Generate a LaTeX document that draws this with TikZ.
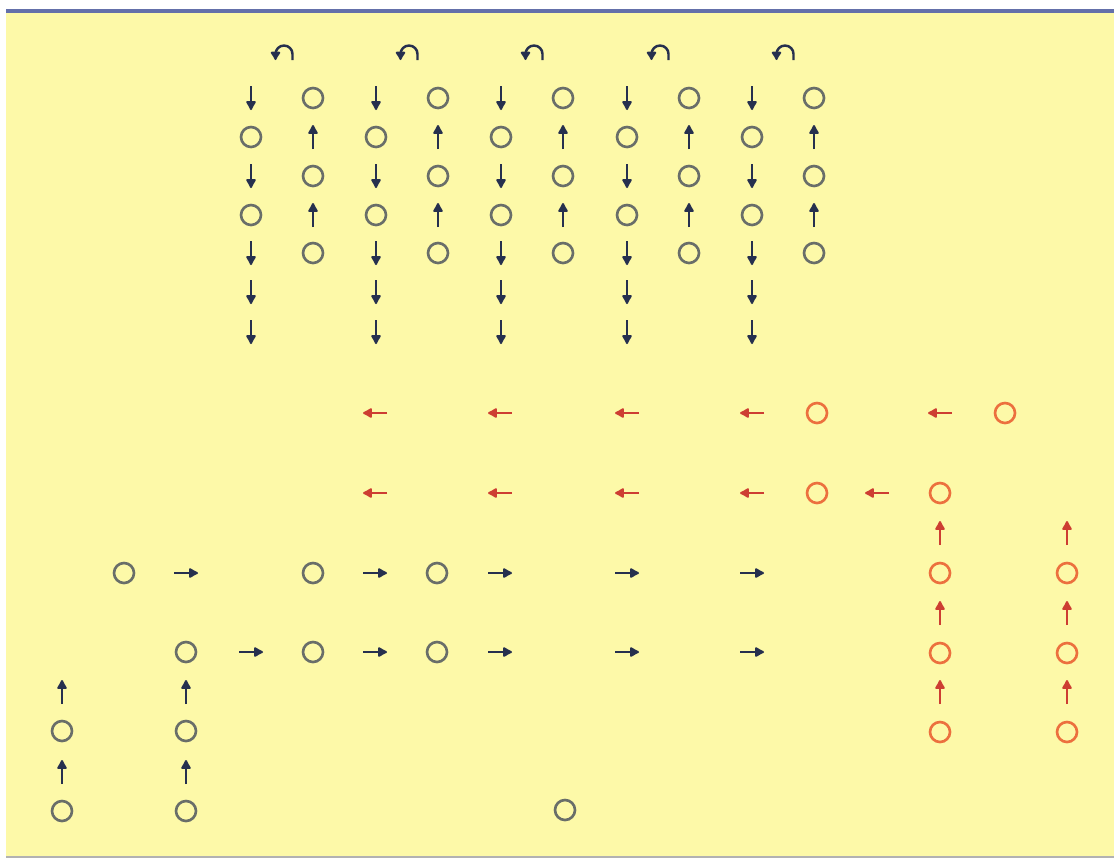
\documentclass[tikz,border=0pt]{standalone}
\usepackage{tikz}
\usetikzlibrary{arrows.meta}

\definecolor{paper}{RGB}{253,249,168}
\definecolor{edgeblue}{RGB}{100,112,170}
\definecolor{ringgray}{RGB}{105,110,105}
\definecolor{arrowblue}{RGB}{38,48,78}
\definecolor{ringred}{RGB}{236,112,62}
\definecolor{arrowred}{RGB}{205,62,50}

\tikzset{
    ring/.style={circle, draw=ringgray, line width=1.5pt, minimum size=0.40cm, inner sep=0pt},
    redring/.style={ring, draw=ringred},
    tip/.style={line width=1.2pt, -{Latex[round,length=2.2mm,width=2.4mm]}},
    dn/.style={tip, draw=arrowblue},
    rd/.style={tip, draw=arrowred},
    curl/.style={line width=1.4pt, draw=arrowblue, -{Latex[round,length=2mm,width=2.4mm]}}
}

\begin{document}
\begin{tikzpicture}[x=0.02cm, y=-0.02cm]
        \useasboundingbox (0,0) rectangle (1118,860);
        \fill[white] (0,0) rectangle (1118,860);
        \fill[paper] (6,12) rectangle (1114,857);
        \draw[edgeblue, line width=2.4pt] (6,11) -- (1114,11);
        \draw[gray!60, line width=0.8pt] (6,857) -- (1114,857);
        % top block: five pairs of columns
        \foreach \i/\xd in {1/251, 2/376, 3/501, 4/627, 5/752} {
            \coordinate (u\i) at (\xd+33,54);
            \draw[curl] ([xshift=0.17cm, yshift=-0.12cm] u\i) -- ([xshift=0.17cm] u\i)
                arc[start angle=0, end angle=180, radius=0.17cm] -- ++(0,-0.12cm);
            \coordinate (d\i-1) at (\xd,98);
            \node[ring] (d\i-2) at (\xd,137) {};
            \coordinate (d\i-3) at (\xd,176);
            \node[ring] (d\i-4) at (\xd,215) {};
            \coordinate (d\i-5) at (\xd,253);
            \coordinate (d\i-6) at (\xd,292);
            \coordinate (d\i-7) at (\xd,332);
            \node[ring] (p\i-1) at (\xd+62,98) {};
            \coordinate (p\i-2) at (\xd+62,137);
            \node[ring] (p\i-3) at (\xd+62,176) {};
            \coordinate (p\i-4) at (\xd+62,215);
            \node[ring] (p\i-5) at (\xd+62,253) {};
            \foreach \r in {1,3,5,6,7}
                \draw[dn] ([yshift=0.24cm] d\i-\r) -- ([yshift=-0.24cm] d\i-\r);
            \foreach \r in {2,4}
                \draw[dn] ([yshift=-0.24cm] p\i-\r) -- ([yshift=0.24cm] p\i-\r);
        }
        % red rows
        \foreach \x [count=\n] in {375,500,627,752,940} {
            \coordinate (la\n) at (\x,413);
            \draw[rd] ([xshift=0.24cm] la\n) -- ([xshift=-0.24cm] la\n);
        }
        \node[redring] (ra1) at (817,413) {};
        \node[redring] (ra2) at (1005,413) {};
        \foreach \x [count=\n] in {375,500,627,752,877} {
            \coordinate (lb\n) at (\x,493);
            \draw[rd] ([xshift=0.24cm] lb\n) -- ([xshift=-0.24cm] lb\n);
        }
        \node[redring] (rb1) at (817,493) {};
        \node[redring] (rb2) at (940,493) {};
        % red columns
        \foreach \x/\c in {940/s, 1067/t} {
            \foreach \y [count=\n] in {533,613,692} {
                \coordinate (\c u\n) at (\x,\y);
                \draw[rd] ([yshift=-0.24cm] \c u\n) -- ([yshift=0.24cm] \c u\n);
                \node[redring] (\c o\n) at (\x,\y+40) {};
            }
        }
        % black rows
        \node[ring] (rc1) at (124,573) {};
        \node[ring] (rc2) at (313,573) {};
        \node[ring] (rc3) at (437,573) {};
        \foreach \x [count=\n] in {186,375,500,627,752} {
            \coordinate (mc\n) at (\x,573);
            \draw[dn] ([xshift=-0.24cm] mc\n) -- ([xshift=0.24cm] mc\n);
        }
        \node[ring] (re1) at (186,652) {};
        \node[ring] (re2) at (313,652) {};
        \node[ring] (re3) at (437,652) {};
        \foreach \x [count=\n] in {251,375,500,627,752} {
            \coordinate (me\n) at (\x,652);
            \draw[dn] ([xshift=-0.24cm] me\n) -- ([xshift=0.24cm] me\n);
        }
        % black columns
        \foreach \x/\c in {62/v, 186/w} {
            \foreach \y [count=\n] in {692,772} {
                \coordinate (\c u\n) at (\x,\y);
                \draw[dn] ([yshift=-0.24cm] \c u\n) -- ([yshift=0.24cm] \c u\n);
                \node[ring] (\c o\n) at (\x,\y+39) {};
            }
        }
        \node[ring] (lone) at (565,810) {};
    \end{tikzpicture}
\end{document}
